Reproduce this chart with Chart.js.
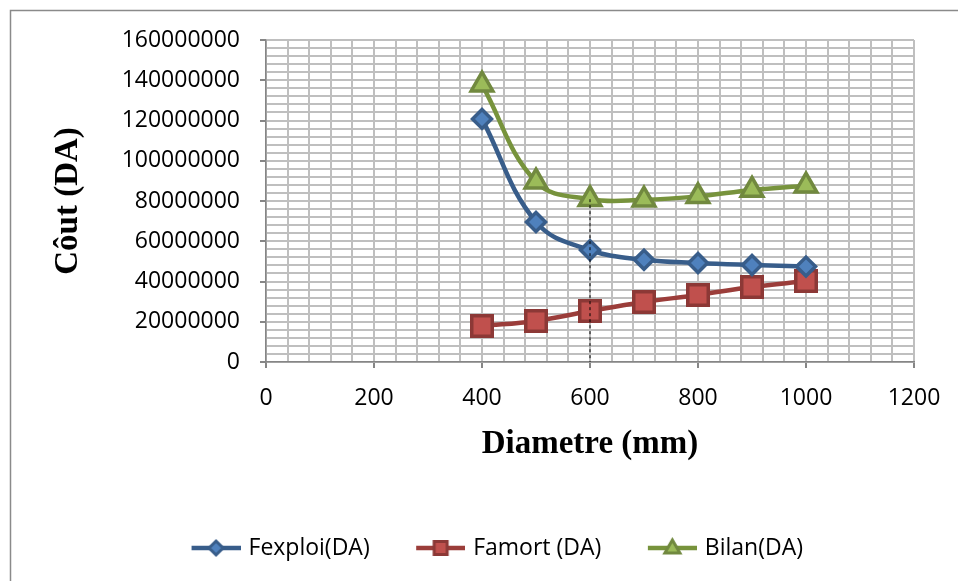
<!DOCTYPE html>
<html>
<head>
<meta charset="utf-8">
<script src="https://cdn.jsdelivr.net/npm/chart.js@4.4.1/dist/chart.umd.min.js"></script>
<style>
  html, body { margin: 0; padding: 0; background: #fff; }
  #wrap { width: 958px; height: 581px; position: relative; }
</style>
</head>
<body>
<div id="wrap"><canvas id="chart"></canvas></div>
<script>
// valeurs
const diametres = [400, 500, 600, 700, 800, 900, 1000];
const fexploi = [120800000, 69600000, 55600000, 50800000, 49200000, 48200000, 47400000];
const famort = [17900000, 20400000, 25300000, 29800000, 33300000, 37300000, 40200000];
const bilan = [137800000, 89600000, 80900000, 80600000, 82300000, 85500000, 87600000];
const seriesNames = ["Fexploi(DA)", "Famort (DA)", "Bilan(DA)"];
const xTickLabels = [0, 200, 400, 600, 800, 1000, 1200];
const yTickLabels = [0, 20000000, 40000000, 60000000, 80000000, 100000000, 120000000, 140000000, 160000000];
const optimumIndex = 2; // 600 mm

const styles = [
    { line: "#385d8a", fill: "#4f81bd", edge: "#385d8a", shape: "rectRot", r: 9.5 },
    { line: "#9b3d3a", fill: "#c0504d", edge: "#8c3836", shape: "rect", r: 14.5 },
    { line: "#77933c", fill: "#9bbb59", edge: "#71893f", shape: "triangle", r: 12.5 }
];

function toPoints(xs, ys) {
    return xs.map((x, i) => ({ x: x, y: ys[i] }));
}

// petit symbole ligne + marqueur pour la legende
function legendSymbol(st) {
    const c = document.createElement("canvas");
    c.width = 89;
    c.height = 26;
    const g = c.getContext("2d");
    g.strokeStyle = st.line;
    g.lineWidth = 4.5;
    g.beginPath();
    g.moveTo(40, 13);
    g.lineTo(89, 13);
    g.stroke();
    const cx = 64.5, cy = 13;
    g.fillStyle = st.fill;
    g.strokeStyle = st.edge;
    g.lineWidth = 3;
    g.beginPath();
    if (st.shape === "rectRot") {
        g.moveTo(cx - 7, cy); g.lineTo(cx, cy - 7); g.lineTo(cx + 7, cy); g.lineTo(cx, cy + 7);
    } else if (st.shape === "rect") {
        g.rect(cx - 6.5, cy - 6.5, 13, 13);
    } else {
        g.moveTo(cx, cy - 8); g.lineTo(cx + 7.5, cy + 5); g.lineTo(cx - 7.5, cy + 5);
    }
    g.closePath();
    g.fill();
    g.stroke();
    return c;
}

const datasets = [fexploi, famort, bilan].map((vals, i) => ({
    label: seriesNames[i],
    data: toPoints(diametres, vals),
    borderColor: styles[i].line,
    borderWidth: 4.5,
    tension: 0.4,
    pointStyle: styles[i].shape,
    pointRadius: styles[i].r,
    pointBackgroundColor: styles[i].fill,
    pointBorderColor: styles[i].edge,
    pointBorderWidth: 3.5,
    fill: false
}));

// trait pointille vertical au diametre optimal
datasets.push({
    label: "optimum",
    data: [
        { x: diametres[optimumIndex], y: bilan[optimumIndex] },
        { x: diametres[optimumIndex], y: 0 }
    ],
    borderColor: "#000",
    borderWidth: 1,
    borderDash: [3, 3],
    pointRadius: 0,
    tension: 0,
    order: -1
});

const frame = {
    id: "frame",
    afterDraw(chart) {
        const g = chart.ctx;
        g.save();
        g.strokeStyle = "#8a8a8a";
        g.lineWidth = 1.5;
        g.beginPath();
        g.moveTo(10.5, 600);
        g.lineTo(10.5, 10.5);
        g.lineTo(970, 10.5);
        g.stroke();
        g.restore();
    }
};

Chart.defaults.color = "#000";
Chart.defaults.font.family = "'Open Sans', sans-serif";

const gridColor = "#bfbfbf";
const axisColor = "#868686";
const padLeft = 44;

new Chart(document.getElementById("chart"), {
    type: "line",
    data: { datasets: datasets },
    plugins: [frame],
    options: {
        responsive: true,
        maintainAspectRatio: false,
        animation: false,
        layout: { padding: { left: padLeft, right: 44, top: 40, bottom: 11.5 } },
        scales: {
            x: {
                type: "linear",
                min: 0,
                max: 1200,
                afterFit: function (s) { s.height = 164.5; },
                ticks: {
                    stepSize: 40,
                    maxTicksLimit: 100,
                    autoSkip: false,
                    maxRotation: 0,
                    padding: 17,
                    font: { size: 23 },
                    callback: v => xTickLabels.includes(v) ? String(v) : ""
                },
                grid: {
                    color: gridColor,
                    lineWidth: 2,
                    tickLength: 6,
                    tickColor: c => xTickLabels.includes(c.tick.value) ? axisColor : "rgba(0,0,0,0)"
                },
                border: { color: axisColor, width: 1.5 },
                title: {
                    display: true,
                    text: "Diametre (mm)",
                    font: { family: "'Liberation Serif', serif", size: 33, weight: "bold" },
                    padding: { bottom: 62.7, top: 0 }
                }
            },
            y: {
                min: 0,
                max: 160000000,
                afterFit: function (s) { s.width = 266 - padLeft; },
                ticks: {
                    stepSize: 4000000,
                    maxTicksLimit: 100,
                    autoSkip: false,
                    padding: 20,
                    font: { size: 23 },
                    callback: v => yTickLabels.includes(v) ? String(v) : ""
                },
                grid: {
                    color: gridColor,
                    lineWidth: 2,
                    tickLength: 6,
                    tickColor: c => yTickLabels.includes(c.tick.value) ? axisColor : "rgba(0,0,0,0)"
                },
                border: { color: axisColor, width: 1.5 },
                title: {
                    display: true,
                    text: "Côut (DA)",
                    font: { family: "'Liberation Serif', serif", size: 33, weight: "bold" },
                    padding: { top: 5, bottom: 0 }
                }
            }
        },
        plugins: {
            tooltip: { enabled: false },
            legend: {
                position: "bottom",
                labels: {
                    usePointStyle: true,
                    pointStyleWidth: 82,
                    padding: 10,
                    font: { size: 23 },
                    generateLabels: chart => seriesNames.map((name, i) => ({
                        text: name,
                        pointStyle: legendSymbol(styles[i]),
                        datasetIndex: i,
                        hidden: false,
                        lineWidth: 0,
                        fontColor: "#000"
                    }))
                }
            }
        }
    }
});
</script>
</body>
</html>
